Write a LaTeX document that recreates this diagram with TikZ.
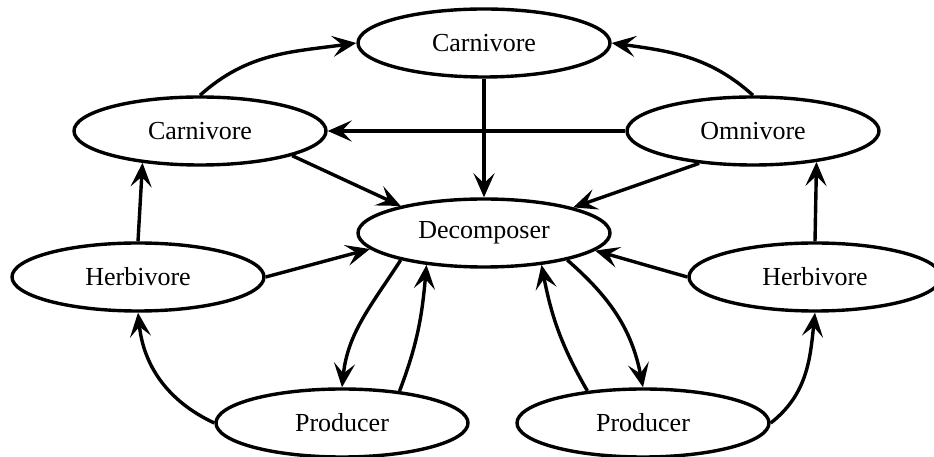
\documentclass[tikz,border=0pt]{standalone}
\usepackage{fontspec}
\setmainfont{Liberation Serif}
\usetikzlibrary{shapes.geometric,arrows.meta}
\begin{document}
\begin{tikzpicture}[x=1pt,y=1pt,
  organism/.style={ellipse,draw,line width=3.4pt,minimum width=252pt,minimum height=68pt,
    inner sep=0pt,font=\fontsize{26}{30}\selectfont},
  flow/.style={line width=3.4pt,-{Stealth[length=24pt,width=21pt,inset=10pt]}}]
\useasboundingbox (0,0) rectangle (934,457);
% organisms
\node[organism] (ct) at (484,414) {Carnivore};
\node[organism] (cl) at (200,326) {Carnivore};
\node[organism] (om) at (753,326) {Omnivore};
\node[organism] (de) at (484,224) {Decomposer};
\node[organism] (hl) at (138,180) {Herbivore};
\node[organism] (hr) at (815,180) {Herbivore};
\node[organism] (pl) at (342,34) {Producer};
\node[organism] (pr) at (643,34) {Producer};
% feeding links
\draw[flow] (cl.north) to[out=42,in=188] (ct.west);
\draw[flow] (om.north) to[out=138,in=-8] (ct.east);
\draw[flow] (om.west) -- (cl.east);
\draw[flow] (ct.south) -- (de.north);
\draw[flow] (cl.-15) -- (de.162);
\draw[flow] (om.211) -- (de.16);
\draw[flow] (hl.east) -- (de.188);
\draw[flow] (hr.west) -- (de.-9);
\draw[flow] (hl.north) -- (cl.209);
\draw[flow] (hr.north) -- (om.-26);
\draw[flow] (pl.west) to[out=155,in=-84] (hl.south);
\draw[flow] (pr.east) to[out=38,in=-96] (hr.south);
% nutrient cycling
\draw[flow] (de.198) to[out=237,in=84] (pl.north);
\draw[flow] (pl.29) to[out=69,in=265] (de.209);
\draw[flow] (pr.150) to[out=120,in=281] (de.-29);
\draw[flow] (de.-18) to[out=-41,in=101] (pr.north);
\end{tikzpicture}
\end{document}
